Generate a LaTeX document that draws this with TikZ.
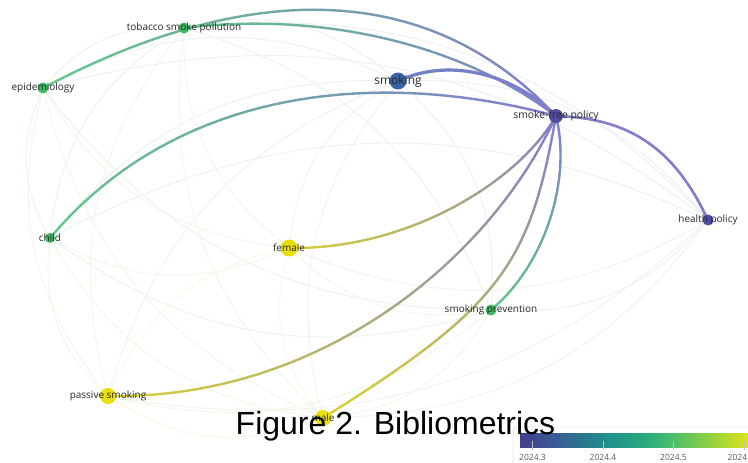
\documentclass[tikz,border=0pt]{standalone}
\usepackage{fontspec}
\setmainfont{Open Sans}
\newfontfamily\titlefont{Liberation Sans}
\usetikzlibrary{calc}
\pgfdeclarelayer{bg}
\pgfsetlayers{bg,main}
% node colours
\definecolor{nPur}{RGB}{80,76,164}
\definecolor{nBlu}{RGB}{60,98,166}
\definecolor{nGrn}{RGB}{62,186,96}
\definecolor{nYel}{RGB}{234,222,12}
% edge colours
\definecolor{ePur}{RGB}{130,126,204}
\definecolor{eBlu}{RGB}{108,130,194}
\definecolor{eGrn}{RGB}{100,200,136}
\definecolor{eYel}{RGB}{216,210,52}
% faint edge colours
\definecolor{fG}{RGB}{234,245,237}
\definecolor{fGB}{RGB}{236,242,244}
\definecolor{fB}{RGB}{238,241,247}
\definecolor{fBY}{RGB}{242,244,237}
\definecolor{fGY}{RGB}{242,248,232}
\definecolor{fY}{RGB}{249,249,228}
\definecolor{txt}{RGB}{40,40,40}
% colour bar
\definecolor{cb0}{RGB}{68,62,140}
\definecolor{cb1}{RGB}{58,92,150}
\definecolor{cb2}{RGB}{40,125,142}
\definecolor{cb3}{RGB}{33,145,140}
\definecolor{cb4}{RGB}{42,170,126}
\definecolor{cb5}{RGB}{76,191,106}
\definecolor{cb6}{RGB}{144,210,62}
\definecolor{cb7}{RGB}{230,228,26}
\pgfdeclarehorizontalshading{virid}{100bp}{color(0bp)=(cb0); color(25bp)=(cb0); color(32.5bp)=(cb1); color(40bp)=(cb2); color(44bp)=(cb3); color(52bp)=(cb4); color(58bp)=(cb5); color(66bp)=(cb6); color(75bp)=(cb7); color(100bp)=(cb7)}
% gradient cubic edge: start, c1, c2, end, colour at start, colour at end, width
\newcommand\gedge[7]{%
  \foreach \i in {1,...,40}{%
    \pgfmathsetmacro\ta{(\i-1)/40}%
    \pgfmathsetmacro\tb{\i/40}%
    \pgfmathtruncatemacro\pc{100-100*(\i-0.5)/40}%
    \draw[line width=#7, line cap=round, color=#5!\pc!#6]
      ($ {(1-\ta)^3}*(#1) + {3*\ta*(1-\ta)^2}*(#2) + {3*\ta^2*(1-\ta)}*(#3) + {\ta^3}*(#4) $) --
      ($ {(1-\tb)^3}*(#1) + {3*\tb*(1-\tb)^2}*(#2) + {3*\tb^2*(1-\tb)}*(#3) + {\tb^3}*(#4) $);
  }%
}
\newcommand\fedge[3]{\draw[faintline, color=#3] (#1) to[bend left=26] (#2);}
\begin{document}
\begin{tikzpicture}[x=1pt,y=-1pt,
  kw/.style={circle, inner sep=0pt, draw=none},
  lbl/.style={font=\fontsize{10}{12}\selectfont, text=txt, inner sep=0pt},
  faintline/.style={line width=1pt},
  ticklbl/.style={font=\fontsize{8.5}{10}\selectfont, text=black!65, inner sep=0pt}]
\useasboundingbox (0,0) rectangle (748,463);
% keyword nodes
\node[kw, fill=nGrn, minimum size=11pt] (tsp) at (184,28) {};
\node[kw, fill=nGrn, minimum size=11pt] (epi) at (43,88) {};
\node[kw, fill=nBlu, minimum size=17pt] (smk) at (398,81) {};
\node[kw, fill=nPur, minimum size=14pt] (sfp) at (556,116) {};
\node[kw, fill=nPur, minimum size=11pt] (hp) at (708,220) {};
\node[kw, fill=nGrn, minimum size=10pt] (child) at (50,238) {};
\node[kw, fill=nYel, minimum size=17pt] (fem) at (289,248) {};
\node[kw, fill=nGrn, minimum size=11pt] (sp) at (491,310) {};
\node[kw, fill=nYel, minimum size=16pt] (ps) at (108,396) {};
\node[kw, fill=nYel, minimum size=16pt] (male) at (323,418) {};
% labels
\node[lbl] (tspL) at (tsp) {tobacco smoke pollution};
\node[lbl] (epiL) at (epi) {epidemiology};
\node[lbl, font=\fontsize{12}{14}\selectfont] (smkL) at (smk) {smoking};
\node[lbl, font=\fontsize{10.4}{12}\selectfont] (sfpL) at (sfp) {smoke-free policy};
\node[lbl] (hpL) at (hp) {health policy};
\node[lbl] (childL) at (child) {child};
\node[lbl] (femL) at (fem) {female};
\node[lbl] (spL) at (sp) {smoking prevention};
\node[lbl] (psL) at (ps) {passive smoking};
\node[lbl] (maleL) at (male) {male};
\begin{pgfonlayer}{bg}
\fill[white] (0,0) rectangle (748,463);
% faint links
\fedge{epi}{tsp}{fG}
\fedge{tsp}{smk}{fGB}
\fedge{tsp}{hp}{fGB}
\fedge{child}{tsp}{fG}
\fedge{fem}{tsp}{fGY}
\fedge{tsp}{sp}{fG}
\fedge{ps}{tsp}{fGY}
\fedge{male}{tsp}{fGY}
\fedge{epi}{smk}{fGB}
\fedge{epi}{hp}{fGB}
\fedge{child}{epi}{fG}
\fedge{fem}{epi}{fGY}
\fedge{sp}{epi}{fG}
\fedge{ps}{epi}{fGY}
\fedge{male}{epi}{fGY}
\fedge{smk}{hp}{fB}
\fedge{child}{smk}{fGB}
\fedge{fem}{smk}{fBY}
\fedge{smk}{sp}{fGB}
\fedge{ps}{smk}{fBY}
\fedge{male}{smk}{fBY}
\fedge{child}{hp}{fGB}
\fedge{hp}{fem}{fBY}
\fedge{hp}{sp}{fGB}
\fedge{hp}{ps}{fBY}
\fedge{hp}{male}{fBY}
\fedge{fem}{child}{fGY}
\fedge{sp}{child}{fG}
\fedge{ps}{child}{fGY}
\fedge{male}{child}{fGY}
\fedge{sp}{fem}{fGY}
\fedge{ps}{fem}{fY}
\fedge{male}{fem}{fY}
\fedge{sp}{ps}{fGY}
\fedge{sp}{male}{fGY}
\fedge{male}{ps}{fY}
% strong links
\gedge{epi}{224,-8}{416,-34}{sfp}{eGrn}{ePur}{2.4pt}
\gedge{tsp}{313,12}{456,40}{sfp}{eGrn}{ePur}{2.4pt}
\gedge{child}{179,85}{382,69}{sfp}{eGrn}{ePur}{2.4pt}
\gedge{smk}{448,58}{511,72}{sfp}{eBlu}{ePur}{3.2pt}
\gedge{sfp}{626,118}{673,145}{hp}{ePur}{ePur}{2.6pt}
\gedge{fem}{410,250}{520,180}{sfp}{eYel}{ePur}{2.4pt}
\gedge{ps}{320,400}{490,260}{sfp}{eYel}{ePur}{2.4pt}
\gedge{male}{501,307}{530,264}{sfp}{eYel}{ePur}{2.4pt}
\gedge{sp}{545,265}{572,180}{sfp}{eGrn}{ePur}{2.4pt}
\end{pgfonlayer}
% colour bar legend
\draw[black!22, fill=white, rounded corners=4pt] (513,427) rectangle (780,480);
\shade[shading=virid] (520,433) rectangle (752,447);
\foreach \xx in {532.5, 603, 673.5, 744}{
  \draw[white!75!black, line width=0.6pt] (\xx,441) -- (\xx,450);
}
\node[ticklbl] (t3) at (532.5,457.5) {2024.3};
\node[ticklbl] (t4) at (603,457.5) {2024.4};
\node[ticklbl] (t5) at (673.5,457.5) {2024.5};
\node[ticklbl, anchor=west] (t6) at (727.5,457.5) {2024};
% title
\node[font=\titlefont\fontsize{32}{36}\selectfont, anchor=base, inner sep=0pt] (title) at (395.5,434) {Figure 2. Bibliometrics};
\end{tikzpicture}
\end{document}
